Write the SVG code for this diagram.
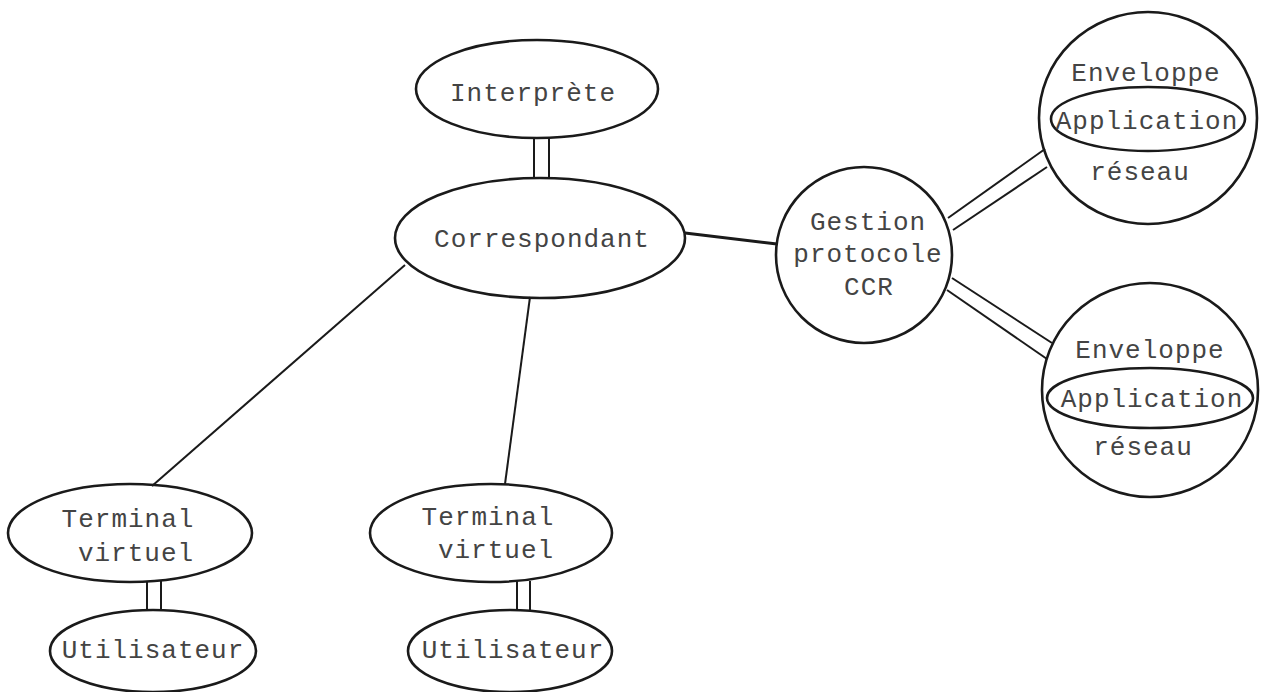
<svg xmlns="http://www.w3.org/2000/svg" width="1263" height="692" viewBox="0 0 1263 692">
<style>
.n{fill:none;stroke:#1a1a1a;stroke-width:2.6}
.t{font-family:"Liberation Mono","DejaVu Sans Mono",monospace;font-size:26px;fill:#444;text-anchor:middle;letter-spacing:1px}
.c{stroke:#1a1a1a;stroke-width:2;fill:none}
.thick{stroke:#1a1a1a;stroke-width:3;fill:none}
</style>
<rect width="1263" height="692" fill="#fff"/>
<g id="connectors">
<line class="c" x1="534" y1="137" x2="534" y2="179"/>
<line class="c" x1="549" y1="137" x2="549" y2="179"/>
<line class="thick" x1="685" y1="233" x2="777" y2="244"/>
<line class="c" x1="405" y1="265" x2="152" y2="486"/>
<line class="c" x1="530" y1="297" x2="505" y2="484"/>
<line class="c" x1="948" y1="218" x2="1045" y2="149"/>
<line class="c" x1="953" y1="230" x2="1047" y2="167"/>
<line class="c" x1="952" y1="278" x2="1052" y2="343"/>
<line class="c" x1="947" y1="290" x2="1047" y2="359"/>
<line class="c" x1="147" y1="581" x2="147" y2="609"/>
<line class="c" x1="161" y1="581" x2="161" y2="609"/>
<line class="c" x1="517" y1="581" x2="517" y2="611"/>
<line class="c" x1="530" y1="581" x2="530" y2="611"/>
</g>
<g id="interprete">
<ellipse class="n" cx="537" cy="89" rx="121" ry="49"/>
<text class="t" x="533" y="101">Interprète</text>
</g>
<g id="correspondant">
<ellipse class="n" cx="540" cy="238" rx="145" ry="60"/>
<text class="t" x="542" y="247">Correspondant</text>
</g>
<g id="gestion">
<circle class="n" cx="864" cy="255" r="88"/>
<text class="t" x="868" y="230">Gestion</text>
<text class="t" x="868" y="262">protocole</text>
<text class="t" x="869" y="295">CCR</text>
</g>
<g id="enveloppe1">
<ellipse class="n" cx="1148" cy="118" rx="109" ry="106"/>
<ellipse class="n" cx="1148" cy="119" rx="97" ry="32"/>
<text class="t" x="1146" y="81">Enveloppe</text>
<text class="t" x="1147" y="129">Application</text>
<text class="t" x="1140" y="180">réseau</text>
</g>
<g id="enveloppe2">
<ellipse class="n" cx="1150" cy="390" rx="108" ry="107"/>
<ellipse class="n" cx="1150" cy="398" rx="103" ry="30"/>
<text class="t" x="1150" y="358">Enveloppe</text>
<text class="t" x="1152" y="407">Application</text>
<text class="t" x="1143" y="455">réseau</text>
</g>
<g id="terminal1">
<ellipse class="n" cx="130" cy="533" rx="122" ry="49"/>
<text class="t" x="128" y="527">Terminal</text>
<text class="t" x="136" y="561">virtuel</text>
</g>
<g id="utilisateur1">
<ellipse class="n" cx="153" cy="651" rx="103" ry="41"/>
<text class="t" x="153" y="658">Utilisateur</text>
</g>
<g id="terminal2">
<ellipse class="n" cx="491" cy="533" rx="121" ry="49"/>
<text class="t" x="488" y="525">Terminal</text>
<text class="t" x="496" y="558">virtuel</text>
</g>
<g id="utilisateur2">
<ellipse class="n" cx="510" cy="651" rx="102" ry="41"/>
<text class="t" x="513" y="658">Utilisateur</text>
</g>
</svg>
